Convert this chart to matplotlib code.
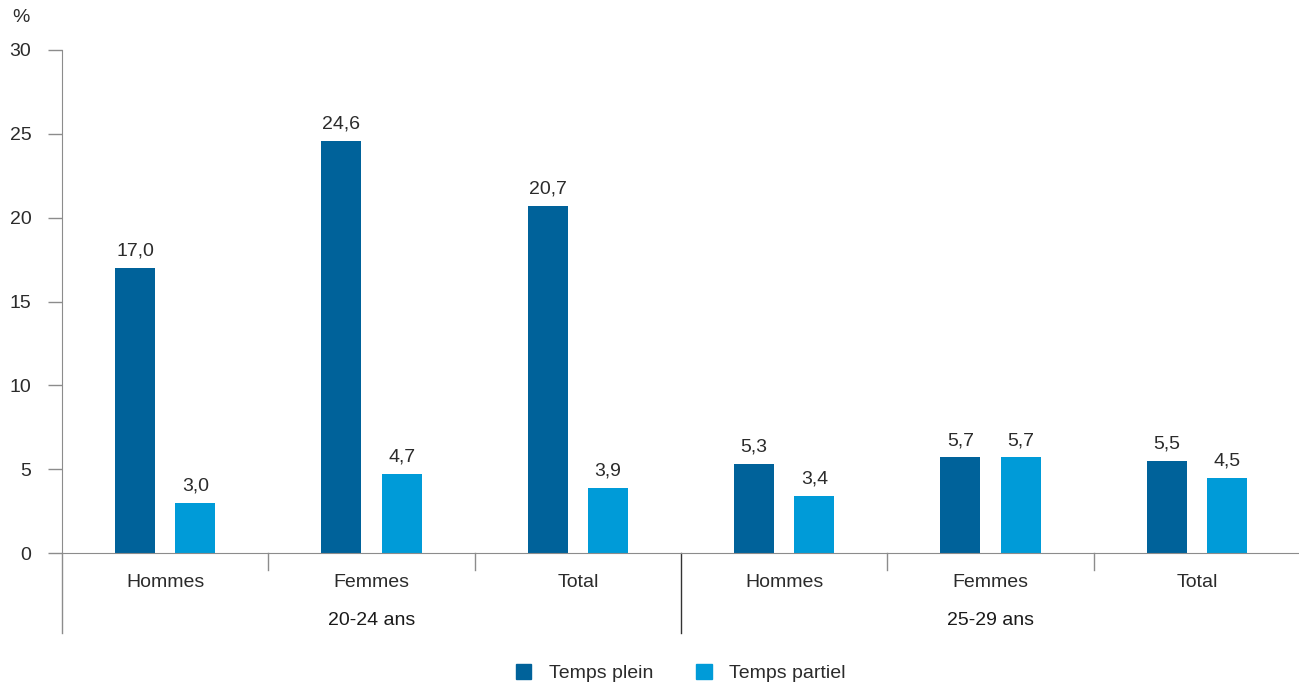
import matplotlib.pyplot as plt
from matplotlib.patches import Patch
import numpy as np

# data
groups = ['20-24 ans', '25-29 ans']
categories = ['Hommes', 'Femmes', 'Total', 'Hommes', 'Femmes', 'Total']
temps_plein = [17.0, 24.6, 20.7, 5.3, 5.7, 5.5]
temps_partiel = [3.0, 4.7, 3.9, 3.4, 5.7, 4.5]
series_names = ['Temps plein', 'Temps partiel']

dark = '#00629a'
light = '#009bd8'
txt = '#2b2b2b'
axcol = '#8c8c8c'

plt.rcParams['font.family'] = ['Liberation Sans', 'DejaVu Sans']

fig = plt.figure(figsize=(12.99, 6.85), dpi=100)
ax = fig.add_axes([62 / 1299, 132 / 685, 1238 / 1299, 503 / 685])

x = np.arange(len(categories)) + 0.5
w = 0.194
off = 0.146
b1 = ax.bar(x - off, temps_plein, w, color=dark)
b2 = ax.bar(x + off, temps_partiel, w, color=light)

for bars, vals in [(b1, temps_plein), (b2, temps_partiel)]:
    for r, v in zip(bars, vals):
        ax.text(r.get_x() + r.get_width() / 2, v + 0.5, f'{v:.1f}'.replace('.', ','),
                ha='center', va='bottom', fontsize=14, color=txt)

ax.set_xlim(0, 6)
ax.set_ylim(0, 30)
ax.set_yticks(range(0, 31, 5))
ax.tick_params(axis='y', length=10, width=1, color=axcol, labelsize=14,
               labelcolor=txt, pad=12)
ax.set_xticks([])
for s in ['top', 'right']:
    ax.spines[s].set_visible(False)
ax.spines['left'].set_color(axcol)
ax.spines['bottom'].set_color(axcol)

tr = ax.get_xaxis_transform()
# left spine runs on below the axis, separators between categories
ax.plot([0, 0], [0, -0.159], transform=tr, color=axcol, lw=1, clip_on=False)
for i in range(1, 6):
    bottom = -0.159 if i == 3 else -0.034
    ax.plot([i, i], [0, bottom], transform=tr, color=axcol if i != 3 else '#333333',
            lw=1, clip_on=False)

for xi, c in zip(x, categories):
    ax.text(xi, -0.058, c, transform=tr, ha='center', va='center', fontsize=14, color=txt)
for gi, g in enumerate(groups):
    ax.text(1.5 + 3 * gi, -0.134, g, transform=tr, ha='center', va='center',
            fontsize=14, color='#1a1a1a')

fig.text(12 / 1299, 1 - 18 / 685, '%', fontsize=14, color=txt, va='center')

handles = [Patch(color=dark), Patch(color=light)]
fig.legend(handles, series_names, loc='center', bbox_to_anchor=(0.524, 0.0175),
           ncol=2, frameon=False, fontsize=14, handlelength=0.8, handleheight=0.8,
           columnspacing=2.2, handletextpad=0.9, labelcolor=txt)

fig.savefig('out.png', dpi=100)
